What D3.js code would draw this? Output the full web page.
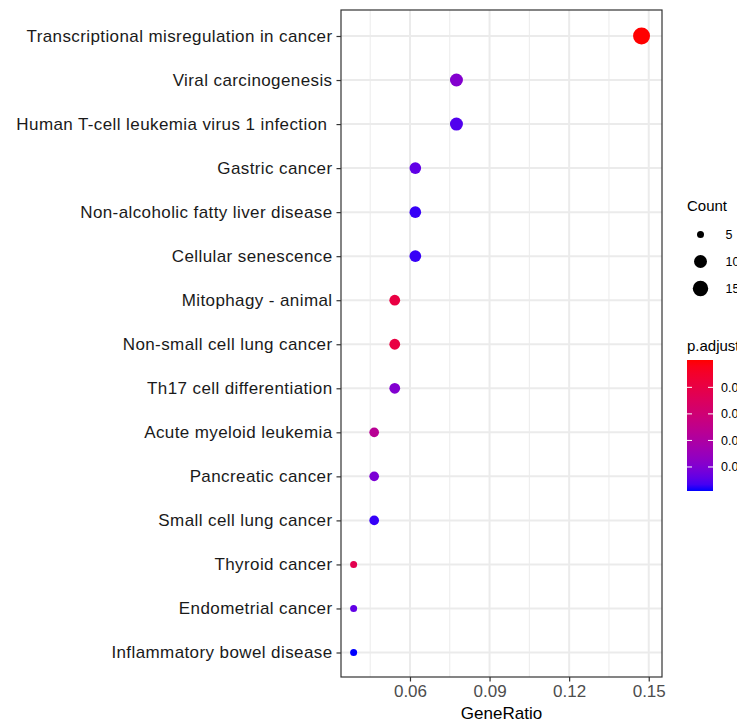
<!DOCTYPE html>
<html>
<head>
<meta charset="utf-8">
<script src="https://cdn.jsdelivr.net/npm/d3@7"></script>
<style>
  body { margin: 0; background: #fff; }
  svg { display: block; font-family: "Liberation Sans", Arial, Helvetica, sans-serif; }
</style>
</head>
<body>
<svg id="chart" width="737" height="722"></svg>
<script>
// pathways, top to bottom
const terms = [
  "Transcriptional misregulation in cancer",
  "Viral carcinogenesis",
  "Human T-cell leukemia virus 1 infection\u00a0",
  "Gastric cancer",
  "Non-alcoholic fatty liver disease",
  "Cellular senescence",
  "Mitophagy - animal",
  "Non-small cell lung cancer",
  "Th17 cell differentiation",
  "Acute myeloid leukemia",
  "Pancreatic cancer",
  "Small cell lung cancer",
  "Thyroid cancer",
  "Endometrial cancer",
  "Inflammatory bowel disease"
];
const counts = [19, 10, 10, 8, 8, 8, 7, 7, 7, 6, 6, 6, 5, 5, 5];
const geneTotal = 129;
const padj = [0.01006, 0.00216, 0.00088, 0.00118, 0.00049, 0.0005, 0.00809, 0.0081, 0.0021, 0.0046, 0.0019, 0.00048, 0.0076, 0.0012, 0.00019];
const xTicks = [0.06, 0.09, 0.12, 0.15];
const xMinor = [0.045, 0.075, 0.105, 0.135];
const sizeBreaks = [5, 10, 15];
const colorBreaks = [0.002, 0.004, 0.006, 0.008];

const rows = terms.map((t, i) => ({ term: t, count: counts[i], ratio: counts[i] / geneTotal, p: padj[i] }));

const svg = d3.select("#chart");
const panel = { left: 341, right: 662, top: 10, bottom: 677 };

const x = d3.scaleLinear().domain([0.034, 0.155]).range([panel.left, panel.right]);
const y = d3.scalePoint().domain(terms).range([36, 652.5]);
const pExt = d3.extent(padj);
const color = d3.scaleLinear().domain(pExt).range(["blue", "red"]).interpolate(d3.interpolateLab);
const rad = d => (7 + 10 * Math.sqrt((d - 5) / 14)) / 2;

const grid = svg.append("g");
grid.selectAll(".minor").data(xMinor).join("line")
  .attr("x1", d => x(d)).attr("x2", d => x(d))
  .attr("y1", panel.top).attr("y2", panel.bottom)
  .attr("stroke", "#ebebeb").attr("stroke-width", 1);
grid.selectAll(".major").data(xTicks).join("line")
  .attr("x1", d => x(d)).attr("x2", d => x(d))
  .attr("y1", panel.top).attr("y2", panel.bottom)
  .attr("stroke", "#ebebeb").attr("stroke-width", 2);
grid.selectAll(".hz").data(terms).join("line")
  .attr("x1", panel.left).attr("x2", panel.right)
  .attr("y1", d => y(d)).attr("y2", d => y(d))
  .attr("stroke", "#ebebeb").attr("stroke-width", 2);

svg.append("g").selectAll("circle").data(rows).join("circle")
  .attr("cx", d => x(d.ratio)).attr("cy", d => y(d.term))
  .attr("r", d => rad(d.count))
  .attr("fill", d => color(d.p));

svg.append("rect")
  .attr("x", panel.left).attr("y", panel.top)
  .attr("width", panel.right - panel.left).attr("height", panel.bottom - panel.top)
  .attr("fill", "none").attr("stroke", "#333").attr("stroke-width", 1.2);

// y axis
const yAxis = svg.append("g").attr("transform", `translate(${panel.left},0)`)
  .call(d3.axisLeft(y).tickSize(4.5).tickPadding(4));
yAxis.select(".domain").remove();
yAxis.selectAll("line").attr("stroke", "#333").attr("stroke-width", 1.2);
yAxis.selectAll("text").attr("font-size", 17).attr("letter-spacing", 0.4)
  .attr("fill", "#1a1a1a").attr("font-family", null);

// x axis
const xAxis = svg.append("g").attr("transform", `translate(0,${panel.bottom})`)
  .call(d3.axisBottom(x).tickValues(xTicks).tickFormat(d3.format(".2f")).tickSize(4.5).tickPadding(3));
xAxis.select(".domain").remove();
xAxis.selectAll("line").attr("stroke", "#333").attr("stroke-width", 1.2);
xAxis.selectAll("text").attr("font-size", 17).attr("fill", "#4d4d4d").attr("font-family", null);

svg.append("text").attr("x", (panel.left + panel.right) / 2).attr("y", 719)
  .attr("text-anchor", "middle").attr("font-size", 17).attr("fill", "#000").text("GeneRatio");

// size legend
svg.append("text").attr("x", 687).attr("y", 211).attr("font-size", 15).text("Count");
const sizeLeg = svg.append("g").selectAll("g").data(sizeBreaks).join("g")
  .attr("transform", (d, i) => `translate(700.5,${234.5 + i * 27})`);
sizeLeg.append("circle").attr("r", d => rad(d)).attr("fill", "#000");
sizeLeg.append("text").attr("x", 25).attr("y", 4.5).attr("font-size", 12.5).text(d => d);

// colour legend
svg.append("text").attr("x", 687).attr("y", 351).attr("font-size", 15).text("p.adjust");
const barTop = 360, barH = 131;
const cb = d3.scaleLinear().domain(pExt).range([barTop + barH, barTop]);
const defs = svg.append("defs");
const grad = defs.append("linearGradient").attr("id", "pgrad")
  .attr("x1", 0).attr("y1", 1).attr("x2", 0).attr("y2", 0);
d3.range(0, 1.0001, 0.05).forEach(t => {
  grad.append("stop").attr("offset", t).attr("stop-color", color(pExt[0] + t * (pExt[1] - pExt[0])));
});
svg.append("rect").attr("x", 687).attr("y", barTop).attr("width", 26).attr("height", barH)
  .attr("fill", "url(#pgrad)");
const cbTicks = svg.append("g").selectAll("g").data(colorBreaks).join("g")
  .attr("transform", d => `translate(0,${cb(d)})`);
cbTicks.append("line").attr("x1", 687).attr("x2", 692).attr("stroke", "#fff").attr("stroke-width", 1);
cbTicks.append("line").attr("x1", 708).attr("x2", 713).attr("stroke", "#fff").attr("stroke-width", 1);
cbTicks.append("text").attr("x", 721).attr("y", 4.5).attr("font-size", 12.5).text(d => d3.format(".3f")(d));
</script>
</body>
</html>
